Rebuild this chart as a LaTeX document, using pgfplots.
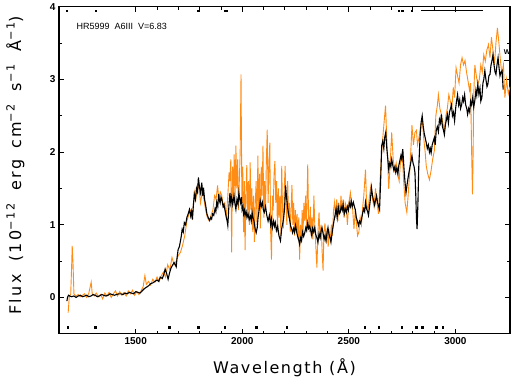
\documentclass[border=0pt]{standalone}
\usepackage{fontspec}
\setmainfont{Liberation Sans}
\newfontfamily\lblfont[LetterSpace=10]{DejaVu Sans}
\newfontfamily\ylblfont[LetterSpace=15]{DejaVu Sans}
\usepackage{pgfplots}
\pgfplotsset{compat=1.18}
\definecolor{specorange}{RGB}{255,140,20}

\begin{document}
\begin{tikzpicture}
\begin{axis}[
    scale only axis,
    width=451pt, height=327pt,
    xmin=1140, xmax=3256,
    ymin=-0.5, ymax=4,
    xtick={1500,2000,2500,3000},
    minor x tick num=4,
    ytick={0,1,2,3,4},
    minor y tick num=1,
    major tick length=5pt,
    minor tick length=3pt,
    axis line style={line width=1.4pt},
    every tick/.style={black, line width=0.9pt},
    /pgf/number format/assume math mode=true,
    /pgf/number format/1000 sep={},
    tick label style={font=\bfseries\fontsize{10}{10}\selectfont},
    xlabel={\lblfont\fontsize{16}{16}\selectfont Wavelength (Å)},
    ylabel={\ylblfont\fontsize{16}{16}\selectfont Flux\hspace{0.3em} (10\textsuperscript{\char"2212 12}\hspace{0.3em} erg\hspace{0.2em} cm\textsuperscript{\char"2212 2}\hspace{0.3em} s\textsuperscript{\char"2212 1}\hspace{0.3em} Å\textsuperscript{\char"2212 1})},
    every axis x label/.style={at={(axis description cs:0.5,-0.104)}, anchor=center},
    every axis y label/.style={at={(axis description cs:-0.097,0.515)}, rotate=90, anchor=center},
]
%% orange: higher-resolution spectrum
\addplot[specorange, line width=0.9pt] coordinates {
(1183,-0.21)(1188,0.00)(1195,0.05)(1199,0.40)(1202,0.71)(1206,0.45)(1210,0.05)
(1220,0.02)(1230,0.04)(1240,0.01)(1250,0.03)(1260,0.05)(1270,0.00)(1280,0.06)
(1291,0.21)(1296,0.05)(1305,0.02)(1315,0.06)(1325,0.01)(1335,0.04)(1345,-0.02)
(1355,0.06)(1365,0.02)(1375,0.07)(1385,0.00)(1395,0.05)(1405,0.09)(1415,0.02)
(1425,0.08)(1435,0.03)(1445,0.07)(1455,0.02)(1465,0.09)(1475,0.05)(1485,0.10)
(1495,0.03)(1505,0.08)(1515,0.04)(1525,0.09)(1535,0.15)(1543,0.30)(1550,0.18)
(1560,0.22)(1570,0.17)(1580,0.25)(1590,0.21)(1600,0.28)(1610,0.22)(1620,0.30)
(1630,0.35)(1640,0.28)(1650,0.45)(1660,0.38)(1670,0.55)(1680,0.45)(1690,0.50)
(1700,0.58)(1710,0.62)(1720,0.72)(1730,0.85)(1740,1.05)(1750,1.15)(1758,1.20)
(1766,1.10)(1775,1.45)(1782,1.35)(1790,1.55)(1797,1.50)(1804,1.30)(1812,1.45)
(1820,1.35)(1828,1.20)(1836,1.10)(1845,1.05)(1855,1.15)(1862,1.20)(1870,1.40)
(1877,1.35)(1884,1.54)(1890,1.35)(1897,1.45)(1904,1.40)(1911,1.25)(1918,1.30)
(1925,1.10)(1932,1.40)(1938,1.72)(1942,1.60)(1946,1.90)(1950,0.62)(1954,1.80)
(1958,1.40)(1962,1.97)(1966,1.30)(1970,2.09)(1974,1.50)(1978,1.90)(1982,1.20)
(1986,1.60)(1990,2.00)(1994,3.07)(1998,1.30)(2002,1.80)(2006,0.90)(2010,1.60)
(2013,0.65)(2017,1.40)(2021,1.82)(2025,1.10)(2029,1.60)(2033,1.00)(2037,1.86)
(2041,1.20)(2045,1.50)(2049,0.90)(2053,1.40)(2057,0.76)(2061,1.30)(2065,1.60)
(2069,1.00)(2073,1.95)(2077,1.20)(2081,1.70)(2085,0.95)(2089,1.80)(2093,1.40)
(2097,2.09)(2101,1.10)(2105,1.60)(2109,1.20)(2113,1.90)(2117,2.31)(2121,1.30)
(2125,1.80)(2129,2.13)(2133,0.90)(2137,0.52)(2141,1.40)(2145,1.20)(2149,1.70)
(2153,1.88)(2157,1.30)(2161,1.60)(2165,0.90)(2169,1.50)(2173,1.10)(2177,1.40)
(2181,0.85)(2185,1.81)(2189,1.20)(2193,0.95)(2197,1.50)(2201,1.81)(2205,1.30)
(2209,1.00)(2213,1.60)(2217,1.10)(2221,1.30)(2225,0.90)(2229,1.20)(2233,1.55)
(2237,1.00)(2241,1.30)(2245,0.85)(2249,1.20)(2253,0.90)(2257,1.15)(2261,0.80)
(2265,1.10)(2269,0.52)(2273,1.00)(2277,0.80)(2281,1.20)(2285,0.90)(2289,1.30)
(2293,1.05)(2297,1.40)(2301,0.95)(2307,1.83)(2311,1.10)(2315,0.90)(2319,1.25)
(2323,0.85)(2327,1.10)(2331,0.80)(2336,1.40)(2340,1.00)(2345,0.70)(2350,0.41)
(2355,0.90)(2360,1.17)(2365,0.80)(2370,1.00)(2375,0.60)(2379,0.37)(2383,0.90)
(2388,1.02)(2393,0.75)(2398,0.95)(2403,0.70)(2408,0.90)(2413,0.80)(2418,1.00)
(2423,0.85)(2428,1.20)(2433,1.31)(2438,1.10)(2443,1.35)(2448,1.05)(2453,1.30)
(2458,1.15)(2463,1.40)(2468,1.20)(2473,1.35)(2478,1.10)(2483,1.30)(2488,1.25)
(2493,1.00)(2500,1.30)(2507,1.44)(2512,1.30)(2518,1.20)(2524,0.94)(2530,1.20)
(2536,1.00)(2541,0.85)(2547,0.90)(2553,1.10)(2559,1.00)(2565,1.25)(2570,1.40)
(2578,1.76)(2583,1.30)(2590,1.20)(2597,1.40)(2604,1.55)(2611,1.35)(2618,1.25)
(2625,1.50)(2632,1.30)(2639,1.15)(2646,1.60)(2654,2.00)(2662,2.30)(2672,2.64)
(2679,2.10)(2687,1.49)(2694,1.85)(2701,2.27)(2708,1.90)(2715,1.75)(2722,1.85)
(2729,1.70)(2736,1.60)(2743,1.90)(2750,2.00)(2757,1.60)(2764,1.30)(2772,1.17)
(2778,1.40)(2785,1.70)(2792,2.10)(2796,2.37)(2803,2.10)(2810,2.27)(2817,2.30)
(2822,2.10)(2829,2.20)(2836,2.35)(2844,2.45)(2851,2.20)(2858,2.00)(2863,1.81)
(2870,1.70)(2878,1.62)(2886,1.75)(2893,1.90)(2901,2.02)(2908,2.50)(2915,2.64)
(2920,2.79)(2927,2.60)(2934,2.52)(2941,2.40)(2948,2.30)(2955,2.50)(2962,2.60)
(2969,2.79)(2976,2.70)(2983,2.60)(2990,2.89)(2996,2.75)(3003,3.16)(3010,3.05)
(3017,2.95)(3024,3.20)(3031,3.30)(3038,3.20)(3045,3.26)(3052,3.10)(3059,2.98)
(3066,2.85)(3071,2.95)(3076,2.00)(3080,1.42)(3083,2.00)(3086,2.80)(3091,3.20)
(3098,3.05)(3105,2.93)(3112,3.00)(3119,3.20)(3126,3.10)(3133,3.34)(3140,3.25)
(3147,3.40)(3155,3.48)(3162,3.30)(3169,3.58)(3176,3.40)(3183,3.20)(3190,3.50)
(3197,3.71)(3204,3.50)(3211,3.26)(3218,3.07)(3225,3.20)(3232,2.75)(3240,3.00)
(3248,2.80)(3256,2.90)
};
%% black: low-resolution spectrum
\addplot[black, line width=1.1pt] coordinates {
(1177,-0.05)(1180,0.00)(1185,0.03)(1190,0.02)(1200,0.01)(1210,0.02)(1220,0.00)
(1230,0.02)(1240,0.03)(1250,0.01)(1260,0.02)(1270,0.03)(1280,0.01)(1290,0.02)
(1300,0.04)(1310,0.03)(1320,0.01)(1330,0.02)(1340,0.04)(1350,0.03)(1360,0.02)
(1370,0.03)(1380,0.05)(1390,0.04)(1400,0.03)(1410,0.04)(1420,0.05)(1430,0.05)
(1440,0.04)(1450,0.06)(1460,0.05)(1470,0.07)(1480,0.06)(1490,0.05)(1500,0.08)
(1510,0.07)(1520,0.06)(1530,0.09)(1540,0.12)(1550,0.14)(1560,0.16)(1570,0.19)
(1580,0.20)(1590,0.22)(1600,0.24)(1608,0.22)(1615,0.28)(1625,0.26)(1632,0.32)
(1638,0.39)(1645,0.33)(1652,0.25)(1658,0.33)(1665,0.40)(1672,0.44)(1680,0.48)
(1685,0.45)(1690,0.42)(1694,0.55)(1699,0.66)(1705,0.70)(1710,0.78)(1714,0.85)
(1718,0.94)(1723,0.90)(1728,1.03)(1734,1.00)(1740,1.10)(1746,1.15)(1752,1.21)
(1758,1.12)(1762,1.18)(1766,1.07)(1770,1.25)(1775,1.42)(1780,1.35)(1785,1.50)
(1790,1.45)(1794,1.65)(1799,1.52)(1804,1.44)(1810,1.58)(1814,1.40)(1818,1.51)
(1823,1.35)(1828,1.27)(1834,1.15)(1840,1.10)(1847,1.06)(1852,1.10)(1856,1.08)
(1861,1.15)(1866,1.13)(1872,1.22)(1876,1.18)(1880,1.31)(1885,1.25)(1889,1.42)
(1893,1.33)(1896,1.30)(1900,1.38)(1904,1.35)(1910,1.25)(1914,1.28)(1918,1.21)
(1922,1.15)(1925,1.10)(1929,1.05)(1932,0.99)(1937,1.25)(1942,1.44)(1946,1.30)
(1950,1.38)(1955,1.28)(1961,1.40)(1965,1.30)(1970,1.21)(1975,1.35)(1980,1.28)
(1984,1.44)(1988,1.35)(1992,1.30)(1996,1.38)(1999,1.21)(2003,1.25)(2006,1.15)
(2010,1.20)(2013,1.13)(2018,1.18)(2022,1.10)(2027,1.15)(2032,1.07)(2038,1.12)
(2042,1.05)(2046,1.17)(2050,1.10)(2055,1.05)(2060,0.95)(2065,0.89)(2070,0.96)
(2074,1.10)(2079,1.21)(2084,1.33)(2089,1.25)(2094,1.31)(2099,1.20)(2103,1.17)
(2109,1.25)(2115,1.13)(2121,1.05)(2127,1.13)(2133,1.00)(2137,1.08)(2141,0.96)
(2147,1.05)(2151,0.98)(2155,1.03)(2160,0.92)(2166,0.98)(2172,0.85)(2179,0.78)
(2185,0.95)(2190,1.02)(2194,1.10)(2198,1.21)(2203,1.54)(2207,1.40)(2212,1.25)
(2217,1.15)(2222,1.07)(2227,0.98)(2232,0.94)(2236,0.89)(2241,0.95)(2245,0.90)
(2250,0.99)(2255,0.90)(2259,0.85)(2264,0.80)(2269,0.73)(2274,0.82)(2278,0.78)
(2283,0.90)(2288,0.84)(2293,0.89)(2298,0.96)(2302,0.92)(2307,1.03)(2311,0.95)
(2316,0.98)(2321,0.92)(2326,0.85)(2330,0.95)(2335,0.90)(2340,0.96)(2345,0.86)
(2350,0.82)(2355,0.76)(2360,0.88)(2365,0.82)(2370,0.92)(2374,0.96)(2379,0.88)
(2384,0.80)(2388,0.85)(2393,0.78)(2398,0.90)(2402,0.96)(2407,0.86)(2412,0.82)
(2416,0.76)(2421,0.88)(2426,0.98)(2430,1.05)(2435,1.13)(2440,1.22)(2445,1.10)
(2450,1.25)(2455,1.15)(2459,1.17)(2464,1.25)(2469,1.20)(2473,1.28)(2478,1.15)
(2483,1.22)(2488,1.17)(2493,1.25)(2498,1.20)(2502,1.30)(2507,1.25)(2511,1.33)
(2516,1.25)(2521,1.31)(2526,1.25)(2530,1.21)(2535,1.10)(2540,1.05)(2545,0.99)
(2550,1.05)(2555,1.02)(2559,1.07)(2564,1.15)(2569,1.22)(2574,1.18)(2578,1.31)
(2583,1.22)(2588,1.18)(2592,1.13)(2597,1.25)(2602,1.38)(2606,1.51)(2611,1.40)
(2616,1.33)(2621,1.27)(2626,1.35)(2630,1.40)(2635,1.30)(2640,1.25)(2644,1.21)
(2649,1.60)(2654,2.09)(2659,2.15)(2664,2.05)(2668,2.20)(2673,2.27)(2678,2.05)
(2683,1.90)(2687,1.76)(2692,1.85)(2697,1.80)(2701,1.90)(2706,1.82)(2711,1.75)
(2716,1.80)(2720,1.72)(2725,1.78)(2730,1.70)(2734,1.81)(2739,1.88)(2744,1.95)
(2748,1.90)(2753,2.04)(2758,1.80)(2763,1.60)(2768,1.44)(2773,1.55)(2778,1.65)
(2782,1.72)(2787,1.80)(2792,1.88)(2796,1.95)(2801,1.85)(2806,1.80)(2810,1.72)
(2814,1.40)(2817,1.10)(2820,0.94)(2824,1.30)(2828,1.80)(2834,2.20)(2839,2.41)
(2844,2.50)(2849,2.35)(2854,2.25)(2858,2.20)(2863,2.13)(2868,2.05)(2873,2.10)
(2878,2.00)(2882,2.05)(2886,1.99)(2891,2.10)(2896,2.15)(2901,2.20)(2905,2.10)
(2910,2.30)(2915,2.35)(2920,2.28)(2925,2.45)(2930,2.40)(2934,2.52)(2939,2.35)
(2944,2.30)(2948,2.24)(2953,2.38)(2958,2.45)(2962,2.52)(2967,2.40)(2972,2.55)
(2977,2.60)(2981,2.65)(2986,2.50)(2991,2.55)(2996,2.43)(3001,2.60)(3005,2.70)
(3010,2.79)(3015,2.65)(3020,2.72)(3024,2.60)(3029,2.65)(3034,2.75)(3038,2.70)
(3043,2.79)(3048,2.65)(3053,2.60)(3057,2.52)(3062,2.60)(3067,2.55)(3071,2.70)
(3076,2.65)(3081,2.75)(3086,2.62)(3091,2.71)(3096,2.85)(3100,2.78)(3105,2.93)
(3110,2.80)(3115,2.88)(3119,2.70)(3124,2.75)(3129,2.95)(3133,3.00)(3138,3.12)
(3143,3.00)(3148,2.90)(3152,2.93)(3157,3.05)(3162,3.07)(3167,3.20)(3171,3.25)
(3176,3.34)(3181,3.20)(3186,3.10)(3190,3.07)(3195,3.20)(3200,3.30)(3205,3.15)
(3209,3.05)(3214,3.10)(3219,3.12)(3224,2.86)
};
%% flag marks along top and bottom
\addplot[only marks, mark=square*, mark size=0.7pt, black] coordinates {
(1176,3.95)(1313,3.95)(1794,3.95)(1918,3.95)(1927,3.95)(2735,3.95)(2750,3.95)(2796,3.95)
};
\addplot[black, line width=1.8pt] coordinates {(2839,3.95)(3128,3.95)};
\addplot[only marks, mark=square*, mark size=0.7pt, black] coordinates {
(1180,-0.41)(1310,-0.41)(1657,-0.41)(1794,-0.41)(1918,-0.41)(2065,-0.41)(2208,-0.41)
(2573,-0.41)(2640,-0.41)(2749,-0.41)(2815,-0.41)(2844,-0.41)(2910,-0.41)(2939,-0.41)
};
\addplot[black, line width=0.8pt] coordinates {(3226,3.26)(3256,3.26)};
\node[font=\bfseries\fontsize{7}{7}\selectfont] at (axis cs:3243,3.37) {W};
\node[anchor=west, font=\fontsize{9}{9}\selectfont] at (rel axis cs:0.031,0.939) {HR5999\ \ A6III\ \ V=6.83};
\end{axis}
\path ([shift={(-59pt,-44pt)}]current axis.south west) rectangle ([shift={(1pt,4pt)}]current axis.north east);
\end{tikzpicture}
\end{document}
